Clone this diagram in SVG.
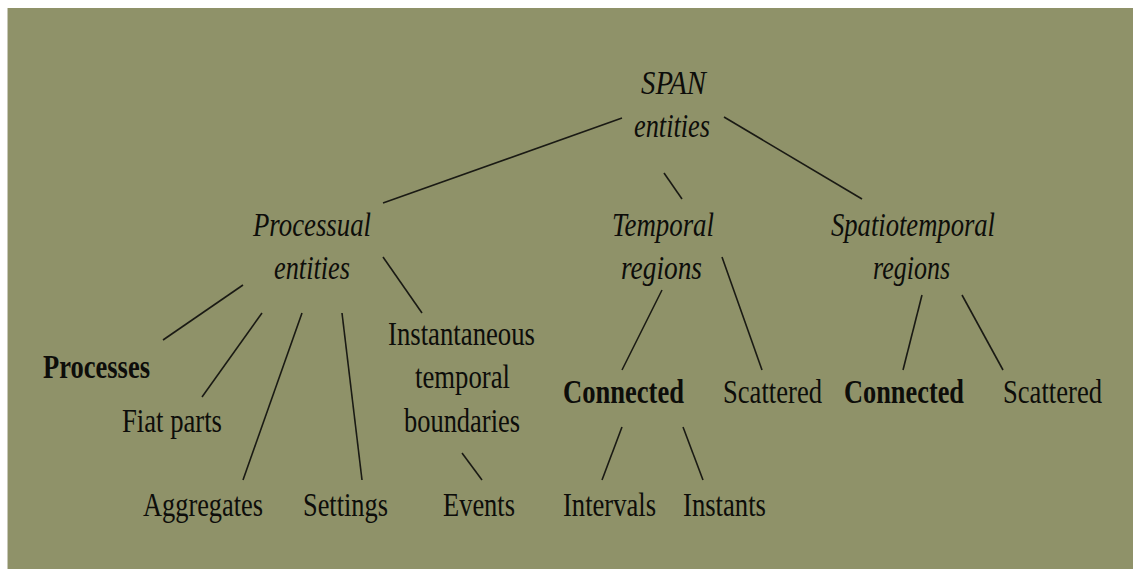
<svg xmlns="http://www.w3.org/2000/svg" width="1133" height="569" viewBox="0 0 1133 569">
<style>
text{font-family:"Liberation Serif","Times New Roman",serif;font-size:34px;fill:#0d0d0a;}
.i{font-style:italic;}
.b{font-weight:bold;}
.c line{stroke:#1a1a14;stroke-width:1.6;}
</style>
<rect x="0" y="0" width="1133" height="569" fill="#ffffff"/>
<rect x="7" y="8" width="1126" height="561" fill="#8f9269"/>
<line x1="7.5" y1="8" x2="7.5" y2="569" stroke="#c8c8b8" stroke-width="1"/>
<g class="c" id="connectors">
<line x1="622" y1="118" x2="383" y2="203"/>
<line x1="664" y1="173" x2="682" y2="199"/>
<line x1="724" y1="117" x2="862" y2="199"/>
<line x1="243" y1="285" x2="163" y2="340"/>
<line x1="262" y1="313" x2="202" y2="397"/>
<line x1="302" y1="313" x2="243" y2="480"/>
<line x1="342" y1="313" x2="362" y2="480"/>
<line x1="383" y1="257" x2="422" y2="313"/>
<line x1="462" y1="453" x2="482" y2="480"/>
<line x1="662" y1="290" x2="622" y2="370"/>
<line x1="722" y1="257" x2="762" y2="370"/>
<line x1="922" y1="295" x2="903" y2="370"/>
<line x1="962" y1="295" x2="1003" y2="370"/>
<line x1="622" y1="427" x2="602" y2="480"/>
<line x1="683" y1="427" x2="703" y2="480"/>
</g>
<g id="span"><text class="i" x="641" y="94" textLength="65" lengthAdjust="spacingAndGlyphs">SPAN</text><text class="i" x="634" y="137" textLength="76" lengthAdjust="spacingAndGlyphs">entities</text></g>
<g id="processual"><text class="i" x="253" y="236" textLength="118" lengthAdjust="spacingAndGlyphs">Processual</text><text class="i" x="274" y="279" textLength="76" lengthAdjust="spacingAndGlyphs">entities</text></g>
<g id="temporal"><text class="i" x="612" y="236" textLength="102" lengthAdjust="spacingAndGlyphs">Temporal</text><text class="i" x="621" y="279" textLength="81" lengthAdjust="spacingAndGlyphs">regions</text></g>
<g id="spatiotemporal"><text class="i" x="831" y="236" textLength="164" lengthAdjust="spacingAndGlyphs">Spatiotemporal</text><text class="i" x="873" y="279" textLength="77" lengthAdjust="spacingAndGlyphs">regions</text></g>
<g id="processes"><text class="b" x="43" y="378" textLength="107" lengthAdjust="spacingAndGlyphs">Processes</text></g>
<g id="fiatparts"><text x="122" y="432" textLength="100" lengthAdjust="spacingAndGlyphs">Fiat parts</text></g>
<g id="instantaneous"><text x="388" y="345" textLength="147" lengthAdjust="spacingAndGlyphs">Instantaneous</text><text x="415" y="388" textLength="95" lengthAdjust="spacingAndGlyphs">temporal</text><text x="404" y="432" textLength="116" lengthAdjust="spacingAndGlyphs">boundaries</text></g>
<g id="connected1"><text class="b" x="563" y="403" textLength="121" lengthAdjust="spacingAndGlyphs">Connected</text></g>
<g id="scattered1"><text x="723" y="403" textLength="99" lengthAdjust="spacingAndGlyphs">Scattered</text></g>
<g id="connected2"><text class="b" x="844" y="403" textLength="120" lengthAdjust="spacingAndGlyphs">Connected</text></g>
<g id="scattered2"><text x="1003" y="403" textLength="99" lengthAdjust="spacingAndGlyphs">Scattered</text></g>
<g id="aggregates"><text x="143" y="516" textLength="120" lengthAdjust="spacingAndGlyphs">Aggregates</text></g>
<g id="settings"><text x="303" y="516" textLength="85" lengthAdjust="spacingAndGlyphs">Settings</text></g>
<g id="events"><text x="443" y="516" textLength="72" lengthAdjust="spacingAndGlyphs">Events</text></g>
<g id="intervals"><text x="563" y="516" textLength="93" lengthAdjust="spacingAndGlyphs">Intervals</text></g>
<g id="instants"><text x="683" y="516" textLength="83" lengthAdjust="spacingAndGlyphs">Instants</text></g>
</svg>
